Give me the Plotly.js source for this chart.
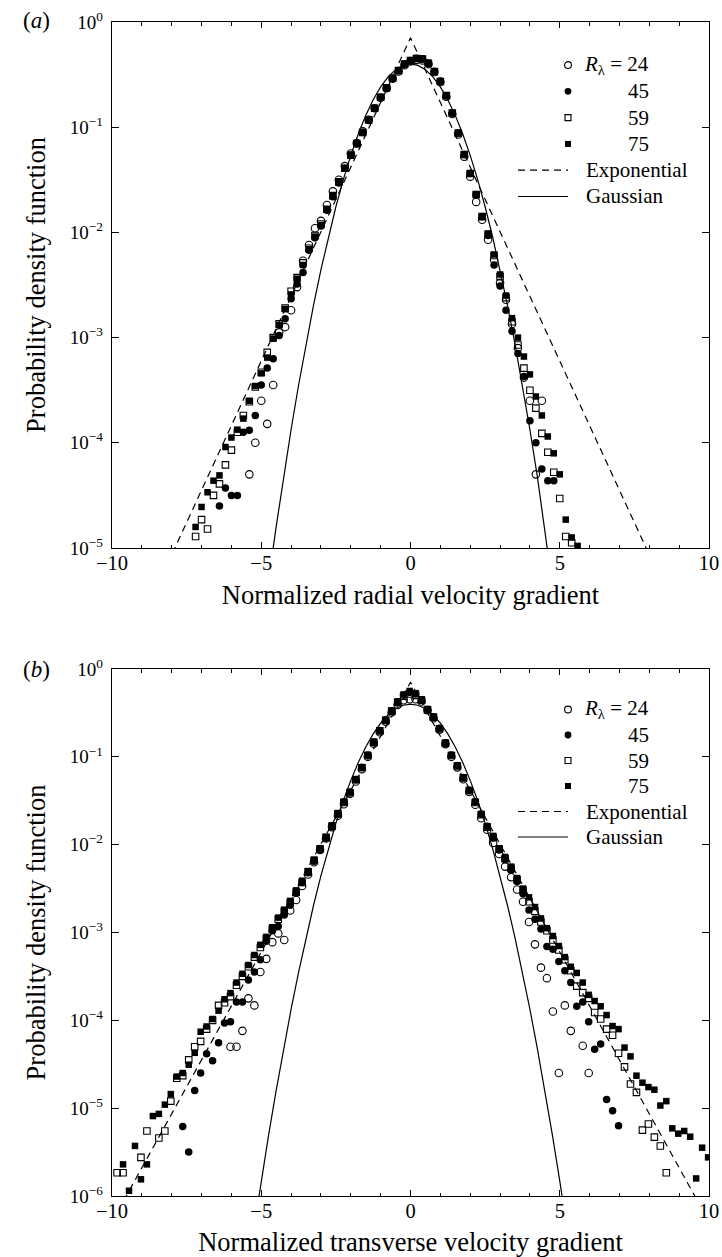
<!DOCTYPE html>
<html>
<head>
<meta charset="utf-8">
<script src="https://cdn.plot.ly/plotly-3.0.1.min.js"></script>
<style>html,body{margin:0;padding:0;background:#fff;}#chart{width:722px;height:1257px;}</style>
</head>
<body>
<div id="chart"></div>
<script>
// ---------------- DATA (y stored as log10 of PDF) ----------------
// Panel (a): normalized radial velocity gradient
const xA24 = [-5.4,-5.2,-5.0,-4.8,-4.6,-4.4,-4.2,-4.0,-3.8,-3.6,-3.4,-3.2,-3.0,-2.8,-2.6,-2.4,-2.2,-2.0,-1.8,-1.6,-1.4,-1.2,-1.0,-0.8,-0.6,-0.4,-0.2,0.0,0.2,0.4,0.6,0.8,1.0,1.2,1.4,1.6,1.8,2.0,2.2,2.4,2.6,2.8,3.0,3.2,3.4,3.6,3.8,4.0,4.2,4.4];
const lA24 = [-4.30,-4.00,-3.60,-3.82,-3.45,-2.95,-2.90,-2.74,-2.52,-2.27,-2.12,-1.96,-1.89,-1.74,-1.61,-1.50,-1.37,-1.25,-1.15,-1.04,-0.93,-0.82,-0.72,-0.63,-0.54,-0.47,-0.41,-0.375,-0.36,-0.365,-0.40,-0.475,-0.57,-0.71,-0.875,-1.07,-1.28,-1.47,-1.71,-1.88,-2.07,-2.26,-2.48,-2.64,-2.87,-3.10,-3.38,-3.60,-4.30,-3.60];

const xA45 = [-6.4,-6.2,-6.0,-5.8,-5.6,-5.4,-5.2,-5.0,-4.8,-4.6,-4.4,-4.2,-4.0,-3.8,-3.6,-3.4,-3.2,-3.0,-2.8,-2.6,-2.4,-2.2,-2.0,-1.8,-1.6,-1.4,-1.2,-1.0,-0.8,-0.6,-0.4,-0.2,0.0,0.2,0.4,0.6,0.8,1.0,1.2,1.4,1.6,1.8,2.0,2.2,2.4,2.6,2.8,3.0,3.2,3.4,3.6,3.8,4.0,4.2,4.4,4.6,4.8];
const lA45 = [-4.60,-4.43,-4.50,-4.50,-3.90,-3.88,-3.74,-3.45,-3.29,-3.20,-2.98,-2.82,-2.63,-2.49,-2.38,-2.17,-2.05,-1.94,-1.79,-1.66,-1.53,-1.39,-1.27,-1.16,-1.05,-0.93,-0.82,-0.715,-0.625,-0.535,-0.46,-0.40,-0.365,-0.345,-0.35,-0.39,-0.47,-0.56,-0.70,-0.865,-1.055,-1.26,-1.44,-1.64,-1.85,-2.03,-2.31,-2.51,-2.74,-2.94,-3.15,-3.37,-3.79,-4.00,-4.25,-4.36,-4.36];

const xA59 = [-7.2,-7.0,-6.8,-6.6,-6.4,-6.2,-6.0,-5.8,-5.6,-5.4,-5.2,-5.0,-4.8,-4.6,-4.4,-4.2,-4.0,-3.8,-3.6,-3.4,-3.2,-3.0,-2.8,-2.6,-2.4,-2.2,-2.0,-1.8,-1.6,-1.4,-1.2,-1.0,-0.8,-0.6,-0.4,-0.2,0.0,0.2,0.4,0.6,0.8,1.0,1.2,1.4,1.6,1.8,2.0,2.2,2.4,2.6,2.8,3.0,3.2,3.4,3.6,3.8,4.0,4.2,4.4,4.6,4.8,5.0,5.2,5.4];
const lA59 = [-4.89,-4.73,-4.82,-4.50,-4.39,-4.21,-4.07,-3.90,-3.74,-3.61,-3.47,-3.33,-3.14,-3.00,-2.87,-2.72,-2.56,-2.43,-2.29,-2.15,-2.03,-1.92,-1.78,-1.65,-1.52,-1.39,-1.265,-1.155,-1.05,-0.93,-0.82,-0.715,-0.625,-0.535,-0.462,-0.40,-0.367,-0.347,-0.352,-0.393,-0.472,-0.565,-0.70,-0.865,-1.055,-1.26,-1.44,-1.64,-1.85,-2.02,-2.22,-2.42,-2.62,-2.85,-3.07,-3.29,-3.50,-3.67,-3.91,-4.09,-4.28,-4.53,-4.89,-4.95];

const xA75 = [-7.2,-7.0,-6.8,-6.6,-6.4,-6.2,-6.0,-5.8,-5.6,-5.4,-5.2,-5.0,-4.8,-4.6,-4.4,-4.2,-4.0,-3.8,-3.6,-3.4,-3.2,-3.0,-2.8,-2.6,-2.4,-2.2,-2.0,-1.8,-1.6,-1.4,-1.2,-1.0,-0.8,-0.6,-0.4,-0.2,0.0,0.2,0.4,0.6,0.8,1.0,1.2,1.4,1.6,1.8,2.0,2.2,2.4,2.6,2.8,3.0,3.2,3.4,3.6,3.8,4.0,4.2,4.4,4.6,4.8,5.0,5.2,5.4,5.6];
const lA75 = [-4.80,-4.61,-4.47,-4.36,-4.31,-4.04,-3.95,-3.875,-3.77,-3.60,-3.46,-3.34,-3.19,-3.01,-2.88,-2.73,-2.59,-2.44,-2.31,-2.16,-2.04,-1.93,-1.78,-1.65,-1.52,-1.39,-1.265,-1.155,-1.05,-0.93,-0.82,-0.715,-0.625,-0.535,-0.462,-0.40,-0.367,-0.345,-0.352,-0.393,-0.472,-0.565,-0.70,-0.865,-1.055,-1.26,-1.44,-1.64,-1.85,-2.01,-2.21,-2.40,-2.60,-2.815,-3.00,-3.18,-3.35,-3.56,-3.74,-3.94,-4.10,-4.30,-4.73,-4.90,-4.98];

// Panel (b): normalized transverse velocity gradient
const xB24 = [-6.03,-5.83,-5.63,-5.43,-5.23,-5.03,-4.83,-4.63,-4.43,-4.23,-4.03,-3.83,-3.63,-3.43,-3.23,-3.03,-2.83,-2.63,-2.43,-2.23,-2.03,-1.83,-1.63,-1.43,-1.23,-1.03,-0.83,-0.63,-0.43,-0.23,-0.03,0.17,0.37,0.57,0.77,0.97,1.17,1.37,1.57,1.77,1.97,2.17,2.37,2.57,2.77,2.97,3.17,3.37,3.57,3.77,3.97,4.17,4.37,4.57,4.77,4.97,5.17,5.37,5.77,5.97];
const lB24 = [-4.30,-4.30,-4.12,-3.75,-3.83,-3.45,-3.30,-3.11,-3.01,-3.086,-2.75,-2.63,-2.47,-2.34,-2.20,-2.06,-1.93,-1.80,-1.67,-1.54,-1.42,-1.28,-1.14,-1.00,-0.85,-0.72,-0.60,-0.495,-0.41,-0.355,-0.345,-0.345,-0.37,-0.47,-0.56,-0.69,-0.855,-1.00,-1.12,-1.255,-1.40,-1.545,-1.70,-1.83,-1.98,-2.106,-2.25,-2.37,-2.51,-2.65,-2.88,-3.135,-3.40,-3.52,-3.90,-4.60,-3.83,-4.12,-4.29,-4.60];

const xB45 = [-7.63,-7.43,-7.23,-7.03,-6.83,-6.63,-6.43,-6.23,-6.03,-5.83,-5.63,-5.43,-5.23,-5.03,-4.83,-4.63,-4.43,-4.23,-4.03,-3.83,-3.63,-3.43,-3.23,-3.03,-2.83,-2.63,-2.43,-2.23,-2.03,-1.83,-1.63,-1.43,-1.23,-1.03,-0.83,-0.63,-0.43,-0.23,-0.03,0.17,0.37,0.57,0.77,0.97,1.17,1.37,1.57,1.77,1.97,2.17,2.37,2.57,2.77,2.97,3.17,3.37,3.57,3.77,3.97,4.17,4.37,4.57,4.77,4.97,5.17,5.37,5.57,5.77,5.97,6.17,6.37,6.57,6.77,6.97];
const lB45 = [-5.21,-5.50,-4.80,-4.60,-4.38,-4.46,-4.255,-4.03,-4.015,-3.79,-3.79,-3.54,-3.45,-3.31,-3.10,-2.98,-2.93,-2.80,-2.69,-2.55,-2.43,-2.32,-2.19,-2.06,-1.925,-1.79,-1.65,-1.515,-1.40,-1.26,-1.12,-0.98,-0.83,-0.70,-0.58,-0.475,-0.375,-0.30,-0.265,-0.285,-0.35,-0.46,-0.545,-0.675,-0.84,-0.98,-1.10,-1.235,-1.38,-1.515,-1.655,-1.79,-1.92,-2.06,-2.17,-2.29,-2.42,-2.56,-2.744,-2.85,-2.96,-3.16,-3.19,-3.33,-3.435,-3.57,-3.84,-3.79,-4.015,-4.33,-4.27,-4.90,-5.03,-5.20];

const xB59 = [-9.83,-9.63,-9.03,-8.83,-8.43,-8.23,-8.03,-7.83,-7.63,-7.43,-7.23,-7.03,-6.83,-6.63,-6.43,-6.23,-6.03,-5.83,-5.63,-5.43,-5.23,-5.03,-4.83,-4.63,-4.43,-4.23,-4.03,-3.83,-3.63,-3.43,-3.23,-3.03,-2.83,-2.63,-2.43,-2.23,-2.03,-1.83,-1.63,-1.43,-1.23,-1.03,-0.83,-0.63,-0.43,-0.23,-0.03,0.17,0.37,0.57,0.77,0.97,1.17,1.37,1.57,1.77,1.97,2.17,2.37,2.57,2.77,2.97,3.17,3.37,3.57,3.77,3.97,4.17,4.37,4.57,4.77,4.97,5.17,5.37,5.57,5.77,5.97,6.17,6.37,6.57,6.77,6.97,7.17,7.37,7.57,7.77,7.97,8.17,8.37,8.57];
const lB59 = [-5.735,-5.735,-5.56,-5.26,-5.34,-5.26,-4.92,-4.66,-4.63,-4.45,-4.30,-4.24,-4.10,-4.00,-3.83,-3.80,-3.73,-3.60,-3.50,-3.39,-3.28,-3.17,-3.07,-2.96,-2.85,-2.76,-2.66,-2.54,-2.43,-2.31,-2.18,-2.05,-1.92,-1.79,-1.65,-1.52,-1.41,-1.26,-1.125,-0.985,-0.835,-0.705,-0.585,-0.48,-0.38,-0.31,-0.285,-0.30,-0.355,-0.465,-0.55,-0.68,-0.845,-0.985,-1.105,-1.24,-1.385,-1.52,-1.66,-1.80,-1.92,-2.05,-2.16,-2.27,-2.40,-2.52,-2.65,-2.76,-2.88,-2.98,-3.086,-3.20,-3.31,-3.435,-3.61,-3.685,-3.75,-3.91,-3.985,-4.10,-4.17,-4.375,-4.53,-4.725,-4.82,-5.25,-5.18,-5.33,-5.43,-5.735];

const xB75 = [-9.63,-9.43,-9.23,-9.03,-8.83,-8.63,-8.43,-8.23,-8.03,-7.83,-7.63,-7.43,-7.23,-7.03,-6.83,-6.63,-6.43,-6.23,-6.03,-5.83,-5.63,-5.43,-5.23,-5.03,-4.83,-4.63,-4.43,-4.23,-4.03,-3.83,-3.63,-3.43,-3.23,-3.03,-2.83,-2.63,-2.43,-2.23,-2.03,-1.83,-1.63,-1.43,-1.23,-1.03,-0.83,-0.63,-0.43,-0.23,-0.03,0.17,0.37,0.57,0.77,0.97,1.17,1.37,1.57,1.77,1.97,2.17,2.37,2.57,2.77,2.97,3.17,3.37,3.57,3.77,3.97,4.17,4.37,4.57,4.77,4.97,5.17,5.37,5.57,5.77,5.97,6.17,6.37,6.57,6.77,6.97,7.17,7.37,7.57,7.77,7.97,8.17,8.37,8.57,8.77,8.97,9.17,9.37,9.57,9.77,9.97];
const lB75 = [-5.64,-5.94,-5.43,-5.81,-5.64,-5.09,-5.065,-4.96,-4.84,-4.64,-4.60,-4.505,-4.37,-4.13,-4.07,-3.985,-3.89,-3.76,-3.69,-3.57,-3.47,-3.37,-3.256,-3.14,-3.05,-2.94,-2.83,-2.74,-2.64,-2.52,-2.41,-2.30,-2.17,-2.04,-1.91,-1.78,-1.64,-1.51,-1.40,-1.256,-1.12,-0.98,-0.83,-0.70,-0.58,-0.475,-0.37,-0.29,-0.25,-0.275,-0.345,-0.455,-0.543,-0.675,-0.84,-0.98,-1.10,-1.233,-1.378,-1.51,-1.65,-1.79,-1.90,-2.04,-2.14,-2.25,-2.38,-2.50,-2.60,-2.71,-2.84,-2.95,-3.04,-3.154,-3.28,-3.39,-3.46,-3.57,-3.71,-3.78,-3.84,-3.94,-4.065,-4.10,-4.31,-4.41,-4.63,-4.71,-4.76,-4.79,-4.97,-4.92,-5.23,-5.29,-5.26,-5.325,-5.80,-5.45,-5.56];

// Reference curves (unit-variance Gaussian and exponential), values read/tabulated
const xGauss = [-5.25,-5.0,-4.75,-4.5,-4.25,-4.0,-3.75,-3.5,-3.25,-3.0,-2.75,-2.5,-2.25,-2.0,-1.75,-1.5,-1.25,-1.0,-0.75,-0.5,-0.25,0.0,0.25,0.5,0.75,1.0,1.25,1.5,1.75,2.0,2.25,2.5,2.75,3.0,3.25,3.5,3.75,4.0,4.25,4.5,4.75,5.0,5.25];
const yGauss = [4.13e-7,1.487e-6,5.030e-6,1.598e-5,4.771e-5,1.338e-4,3.526e-4,8.727e-4,2.029e-3,4.432e-3,9.094e-3,0.01753,0.03174,0.05399,0.08628,0.12952,0.18265,0.24197,0.30114,0.35207,0.38667,0.39894,0.38667,0.35207,0.30114,0.24197,0.18265,0.12952,0.08628,0.05399,0.03174,0.01753,9.094e-3,4.432e-3,2.029e-3,8.727e-4,3.526e-4,1.338e-4,4.771e-5,1.598e-5,5.030e-6,1.487e-6,4.13e-7];
const xExpo = [-10, 0, 10];
const yExpo = [5.09e-7, 0.7071, 5.09e-7];

// Axis tick labels
const xTickVals = [-10, -5, 0, 5, 10];
const xTickText = ['\u221210', '\u22125', '0', '5', '10'];
const yTickValsA = [1, 1e-1, 1e-2, 1e-3, 1e-4, 1e-5];
const yTickTextA = ['10<sup>0</sup>','10<sup>\u22121</sup>','10<sup>\u22122</sup>','10<sup>\u22123</sup>','10<sup>\u22124</sup>','10<sup>\u22125</sup>'];
const yTickValsB = [1, 1e-1, 1e-2, 1e-3, 1e-4, 1e-5, 1e-6];
const yTickTextB = ['10<sup>0</sup>','10<sup>\u22121</sup>','10<sup>\u22122</sup>','10<sup>\u22123</sup>','10<sup>\u22124</sup>','10<sup>\u22125</sup>','10<sup>\u22126</sup>'];

const seriesNames = ['R\u03bb = 24', '45', '59', '75'];
const legendNums = ['24', '45', '59', '75'];

// ---------------- LAYOUT GEOMETRY ----------------
const W = 722, H = 1257, L = 112, R = 709, T = 22, B = 1196;
const A_BOTTOM = 548, B_TOP = 669;
const PX = v => (v - L) / (R - L);
const PY = v => (B - v) / (B - T);
const FONT = 'Liberation Serif, Times New Roman, serif';

const toPdf = arr => arr.map(v => Math.pow(10, v));

const styles = [
  {symbol: 'circle-open', size: 7.5, line: {color: 'black', width: 1.1}, color: 'black'},
  {symbol: 'circle', size: 7.5, color: 'black', line: {width: 0}},
  {symbol: 'square-open', size: 6.5, line: {color: 'black', width: 1.1}, color: 'black'},
  {symbol: 'square', size: 6.5, color: 'black', line: {width: 0}}
];

function curves(xa, ya) {
  return [
    {x: xExpo, y: yExpo, xaxis: xa, yaxis: ya, mode: 'lines', name: 'Exponential',
     line: {color: 'black', width: 1.2, dash: '7px,5px'}, showlegend: false},
    {x: xGauss, y: yGauss, xaxis: xa, yaxis: ya, mode: 'lines', name: 'Gaussian',
     line: {color: 'black', width: 1.2}, showlegend: false}
  ];
}
function pts(x, l, i, xa, ya) {
  return {x: x, y: toPdf(l), xaxis: xa, yaxis: ya, mode: 'markers', name: seriesNames[i],
          marker: styles[i], showlegend: false};
}

const data = [].concat(
  curves('x', 'y'),
  [pts(xA24, lA24, 0, 'x', 'y'), pts(xA45, lA45, 1, 'x', 'y'), pts(xA59, lA59, 2, 'x', 'y'), pts(xA75, lA75, 3, 'x', 'y')],
  curves('x2', 'y2'),
  [pts(xB24, lB24, 0, 'x2', 'y2'), pts(xB45, lB45, 1, 'x2', 'y2'), pts(xB59, lB59, 2, 'x2', 'y2'), pts(xB75, lB75, 3, 'x2', 'y2')]
);

function xAxis(title, anchor) {
  return {
    anchor: anchor, domain: [0, 1], range: [-10, 10], showgrid: false, zeroline: false,
    showline: true, linecolor: 'black', linewidth: 1.3, mirror: 'allticks',
    ticks: 'inside', ticklen: 6, tickwidth: 1, tickcolor: 'black',
    tickmode: 'array', tickvals: xTickVals, ticktext: xTickText,
    minor: {dtick: 1, tick0: 0, ticks: 'inside', ticklen: 3.5, tickwidth: 1, tickcolor: 'black', showgrid: false},
    tickfont: {family: FONT, size: 20.5, color: 'black'}, ticklabelstandoff: -4,
    title: {text: title, font: {family: FONT, size: 26.5, color: 'black'}, standoff: 12}
  };
}
function yAxis(domain, anchor, rng, tv, tt) {
  return {
    anchor: anchor, domain: domain, type: 'log', range: rng, showgrid: false, zeroline: false,
    showline: true, linecolor: 'black', linewidth: 1.3, mirror: 'allticks',
    ticks: 'inside', ticklen: 7, tickwidth: 1, tickcolor: 'black',
    tickmode: 'array', tickvals: tv, ticktext: tt,
    tickfont: {family: FONT, size: 19, color: 'black'}, ticklabelstandoff: 4,
    title: {text: 'Probability density function', font: {family: FONT, size: 26.5, color: 'black'}, standoff: 16}
  };
}

// custom legends (drawn as shapes + annotations)
const shapes = [], annotations = [];
function legend(rowTop, step) {
  const mx = 568;
  for (let i = 0; i < 4; i++) {
    const ry = rowTop + i * step;
    const isCircle = i < 2, filled = (i % 2 === 1);
    const r = isCircle ? 3.4 : 3.0;
    shapes.push({type: isCircle ? 'circle' : 'rect', xref: 'paper', yref: 'paper',
      xsizemode: 'pixel', ysizemode: 'pixel', xanchor: PX(mx), yanchor: PY(ry),
      x0: -r, x1: r, y0: -r, y1: r,
      line: {color: 'black', width: filled ? 0 : 1.1}, fillcolor: filled ? 'black' : 'white'});
    annotations.push({xref: 'paper', yref: 'paper', x: PX(651), y: PY(ry), xanchor: 'right', yanchor: 'middle',
      showarrow: false, text: i === 0 ? '<i>R</i><sub>\u03bb</sub> = ' + legendNums[0] : legendNums[i],
      font: {family: FONT, size: 21, color: 'black'}});
  }
  const lines = [['Exponential', '7px,5px'], ['Gaussian', 'solid']];
  lines.forEach((ln, j) => {
    const ry = rowTop + (4 + j) * step;
    shapes.push({type: 'line', xref: 'paper', yref: 'paper', x0: PX(518), x1: PX(568), y0: PY(ry), y1: PY(ry),
      line: {color: 'black', width: 1.2, dash: ln[1]}});
    annotations.push({xref: 'paper', yref: 'paper', x: PX(584), y: PY(ry), xanchor: 'left', yanchor: 'middle',
      showarrow: false, text: ln[0], font: {family: FONT, size: 21, color: 'black'}});
  });
}
legend(65, 26.3);
legend(709.5, 25.5);

annotations.push({xref: 'paper', yref: 'paper', x: PX(36), y: PY(20), xanchor: 'center', yanchor: 'middle',
  showarrow: false, text: '(<i>a</i>)', font: {family: FONT, size: 23, color: 'black'}});
annotations.push({xref: 'paper', yref: 'paper', x: PX(36), y: PY(669), xanchor: 'center', yanchor: 'middle',
  showarrow: false, text: '(<i>b</i>)', font: {family: FONT, size: 23, color: 'black'}});

const layout = {
  width: W, height: H,
  margin: {l: L, r: W - R, t: T, b: H - B, pad: 0},
  paper_bgcolor: 'white', plot_bgcolor: 'white',
  font: {family: FONT, color: 'black'},
  showlegend: false, hovermode: false,
  xaxis: xAxis('Normalized radial velocity gradient', 'y'),
  yaxis: yAxis([PY(A_BOTTOM), 1], 'x', [-5, 0], yTickValsA, yTickTextA),
  xaxis2: xAxis('Normalized transverse velocity gradient', 'y2'),
  yaxis2: yAxis([0, PY(B_TOP)], 'x2', [-6, 0], yTickValsB, yTickTextB),
  shapes: shapes, annotations: annotations
};

Plotly.newPlot('chart', data, layout, {staticPlot: true, displayModeBar: false});
</script>
</body>
</html>
